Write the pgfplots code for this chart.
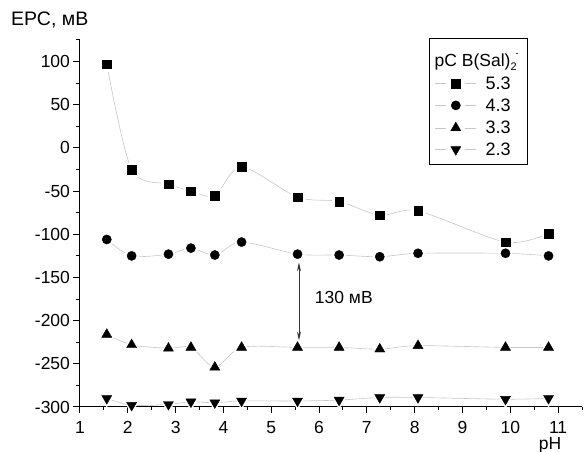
\documentclass[border=0pt]{standalone}
\usepackage{fontspec}
\setmainfont{Liberation Sans}
\usepackage{pgfplots}
\usepackage{pgfplotstable}
\pgfplotsset{compat=1.18}
\usetikzlibrary{arrows.meta}

% pH vs EMF for four B(Sal)2- concentrations
\pgfplotstableread{
x     s53   s43   s33   s23
1.56   97  -106  -216  -290
2.08  -25  -125  -228  -298
2.85  -42  -123  -232  -297
3.32  -50  -116  -231  -294
3.82  -55  -124  -254  -295
4.38  -22  -109  -231  -293
5.55  -57  -123  -231  -293
6.42  -62  -124  -231  -292
7.27  -78  -126  -233  -289
8.07  -73  -122  -229  -289
9.90 -109  -122  -231  -291
10.80 -99  -125  -231  -290
}\data

\pgfplotsset{
  curve/.style={gray!45, line width=0.6pt, smooth, no marks, forget plot},
  gap/.style={only marks, white, forget plot},
  pts/.style={only marks, black, mark options={fill=black, draw=black},
    legend image code/.code={
      \draw[gray!45, line width=0.6pt] (0pt,5.9pt) -- (11pt,5.9pt) (30pt,5.9pt) -- (41pt,5.9pt);
      \draw[only marks] plot coordinates {(20.5pt,5.9pt)};
    }},
}

\begin{document}
\begin{tikzpicture}
\begin{axis}[
  scale only axis, width=502pt, height=367pt,
  xmin=1, xmax=11.5, ymin=-300, ymax=125,
  axis lines=left, axis line style={-, line width=1pt},
  xtick={1,...,11}, ytick={-300,-250,...,100},
  minor xtick={1.5,2.5,...,11.5}, minor ytick={-275,-225,...,125},
  tick align=outside, major tick length=6.5pt, minor tick length=3.5pt,
  every tick/.style={line width=1pt, black},
  ticklabel style={font=\fontsize{17.5}{20}\selectfont},
  xticklabel style={yshift=-4pt},
  /pgf/number format/assume math mode=true,
  clip=false, axis on top,
  legend cell align=left,
  legend style={at={(0.7072,0.894)}, anchor=north west, draw=none, fill=none,
    inner sep=0pt, outer sep=0pt, row sep=0pt, column sep=9pt,
    font=\fontsize{18}{20}\selectfont,
    nodes={inner sep=0pt, text height=10.8pt, text depth=10.8pt}},
]
\addplot[curve] table[y=s53] {\data};
\addplot[curve] table[y=s43] {\data};
\addplot[curve] table[y=s33] {\data};
\addplot[curve] table[y=s23] {\data};

\addplot[gap, mark=square*, mark size=6.8pt] table[y=s53] {\data};
\addplot[gap, mark=*, mark size=6.8pt] table[y=s43] {\data};
\addplot[gap, mark=triangle*, mark size=8.6pt] table[y=s33] {\data};
\addplot[gap, mark=triangle*, mark options={rotate=180}, mark size=8.6pt] table[y=s23] {\data};

\addplot[pts, mark=square*, mark size=4.3pt] table[y=s53] {\data};
\addlegendentry{5.3}
\addplot[pts, mark=*, mark size=4.6pt] table[y=s43] {\data};
\addlegendentry{4.3}
\addplot[pts, mark=triangle*, mark size=5.8pt] table[y=s33] {\data};
\addlegendentry{3.3}
\addplot[pts, mark=triangle*, mark options={rotate=180, fill=black}, mark size=5.8pt] table[y=s23] {\data};
\addlegendentry{2.3}

\draw[{Stealth[length=9pt,width=4pt]}-{Stealth[length=9pt,width=4pt]}, line width=0.9pt, black!80]
  (axis cs:5.58,-132.5) -- (axis cs:5.58,-223);
\node[anchor=west, inner sep=0pt, font=\fontsize{17.5}{20}\selectfont] at (axis cs:5.91,-173.4) {130 мВ};
\end{axis}
% legend frame and title
\draw[line width=0.9pt] ([shift={(349pt,242.3pt)}]current axis.south west) rectangle
  ([shift={(447pt,368.3pt)}]current axis.south west);
\node[anchor=base west, inner sep=0pt, font=\fontsize{17.5}{20}\selectfont]
  at ([shift={(354.5pt,340pt)}]current axis.south west)
  {pC B(Sal)\raisebox{-4pt}{\fontsize{11}{11}\selectfont 2}\hspace{-1pt}\raisebox{10pt}{\fontsize{9}{9}\selectfont -}};
\node[anchor=base west, inner sep=0pt, font=\fontsize{19.5}{22}\selectfont]
  at ([shift={(-69pt,14pt)}]current axis.north west) {ЕРС, мВ};
\node[anchor=base, inner sep=0pt, font=\fontsize{17.5}{20}\selectfont]
  at ([shift={(470pt,-42.4pt)}]current axis.south west) {pH};
\pgfresetboundingbox
\path (current axis.south west) ++(-80pt,-45pt) rectangle ++(584pt,452pt);
\end{tikzpicture}
\end{document}
